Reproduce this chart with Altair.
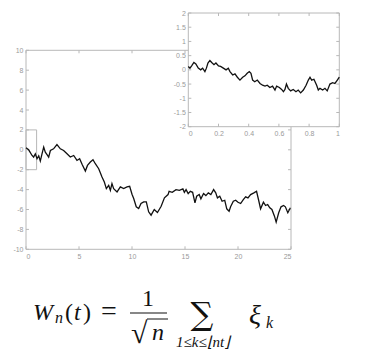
import altair as alt
import pandas as pd

# ---------------- data ----------------
main_x = [0, 0.25, 0.57, 0.72, 0.88, 1.04, 1.2, 1.35, 1.51, 1.67,
          1.82, 2.0, 2.14, 2.3, 2.6, 2.92, 3.24, 3.55, 3.87, 4.18,
          4.5, 4.81, 5.06, 5.3, 5.6, 5.8, 6.07, 6.32, 6.54, 6.86,
          7.17, 7.39, 7.58, 7.8, 7.96, 8.11, 8.27, 8.59, 8.9, 9.21,
          9.53, 9.78, 10.0, 10.16, 10.4, 10.63, 10.85, 11.1, 11.35, 11.57,
          11.8, 12.1, 12.4, 12.75, 13.06, 13.4, 13.5, 13.8, 14.15, 14.47,
          14.8, 14.94, 15.1, 15.3, 15.5, 15.72, 15.94, 16.1, 16.34, 16.5,
          16.75, 16.97, 17.2, 17.44, 17.7, 17.9, 18.06, 18.28, 18.5, 18.75,
          18.94, 19.16, 19.3, 19.56, 19.78, 20.0, 20.25, 20.5, 20.72, 20.94,
          21.19, 21.5, 21.75, 21.97, 22.13, 22.4, 22.6, 22.8, 23.0, 23.2,
          23.44, 23.6, 23.84, 24.06, 24.3, 24.47, 24.7, 24.94]
main_y = [0.2, 0.0, -0.57, -0.73, -0.4, -0.9, -0.6, -1.13, -0.4, 0.27,
          -0.23, -0.5, -0.73, -0.07, 0.1, 0.53, 0.1, -0.07, -0.4, -0.73,
          -0.57, -1.07, -0.9, -1.47, -2.13, -1.57, -1.23, -1.0, -1.4, -1.9,
          -2.73, -3.23, -3.9, -3.57, -4.07, -3.4, -3.9, -4.23, -3.73, -3.9,
          -3.73, -3.67, -4.47, -4.9, -5.73, -5.9, -5.4, -5.23, -5.23, -6.23,
          -6.57, -6.0, -6.3, -5.67, -4.83, -4.5, -4.17, -4.27, -4.0, -4.07,
          -3.93, -4.27, -4.0, -4.4, -4.17, -4.27, -5.33, -4.67, -4.5, -4.93,
          -4.4, -4.6, -4.33, -4.5, -4.0, -4.33, -4.83, -4.67, -5.17, -5.07,
          -5.93, -6.17, -5.73, -5.17, -5.07, -5.27, -5.4, -5.0, -4.73, -4.83,
          -4.5, -4.33, -4.17, -5.17, -5.93, -5.27, -5.6, -5.5, -5.83, -6.0,
          -6.67, -7.27, -6.33, -5.73, -5.6, -5.73, -6.33, -5.83]

inset_x = [0, 0.011, 0.022, 0.037, 0.05, 0.066, 0.082, 0.095, 0.11, 0.12,
           0.13, 0.143, 0.155, 0.17, 0.183, 0.2, 0.214, 0.232, 0.25, 0.265,
           0.276, 0.294, 0.309, 0.325, 0.342, 0.36, 0.375, 0.39, 0.404, 0.415,
           0.426, 0.44, 0.457, 0.475, 0.492, 0.508, 0.523, 0.54, 0.558, 0.574,
           0.585, 0.603, 0.618, 0.63, 0.64, 0.65, 0.662, 0.678, 0.695, 0.713,
           0.728, 0.744, 0.762, 0.78, 0.795, 0.806, 0.817, 0.832, 0.85, 0.861,
           0.872, 0.89, 0.905, 0.92, 0.938, 0.956, 0.971, 0.987, 1.0]
inset_y = [0.12, 0.06, 0.14, 0.26, 0.21, 0.06, 0, 0.06, -0.06, 0.06,
           0.24, 0.33, 0.26, 0.18, 0.24, 0.14, 0.12, 0.06, 0, 0.06,
           -0.06, -0.18, -0.14, -0.26, -0.36, -0.26, -0.21, -0.12, -0.06, -0.12,
           -0.36, -0.42, -0.36, -0.48, -0.54, -0.57, -0.54, -0.62, -0.57, -0.71,
           -0.57, -0.62, -0.69, -0.77, -0.69, -0.5, -0.65, -0.74, -0.69, -0.77,
           -0.71, -0.81, -0.71, -0.54, -0.36, -0.26, -0.36, -0.33, -0.54, -0.71,
           -0.65, -0.71, -0.65, -0.74, -0.5, -0.45, -0.48, -0.36, -0.26]

main_xticks = [0, 5, 10, 15, 20, 25]
main_yticks = [-10, -8, -6, -4, -2, 0, 2, 4, 6, 8, 10]
inset_xticks = [0, 0.2, 0.4, 0.6, 0.8, 1]
inset_yticks = [-2, -1.5, -1, -0.5, 0, 0.5, 1, 1.5, 2]

main_xdom = [0, 25]
main_ydom = [-10, 10]
inset_xdom = [0, 1]
inset_ydom = [-2, 2]
zoom_box_x = [0, 1]
zoom_box_y = [-2, 2]

# ---------------- layout ----------------
OX, OY = 26, 13          # view origin in the page
W, H = 314, 236.3        # view size
MAIN_XR = [0, 265]
MAIN_YR = [236.3, 37.3]
INS_XR = [162.3, 313.3]
INS_YR = [113.7, 0]

FRAME = "#b8b8b8"
LABEL = "#9a9a9a"
LFONT = "Liberation Sans"


def sc(dom, rng):
    return alt.Scale(domain=dom, range=rng, nice=False, zero=False)


def ax(values, **kw):
    return alt.Axis(values=values, ticks=False, domain=False, grid=False,
                    labelColor=LABEL, labelFontSize=7, labelFont=LFONT,
                    labelPadding=3, title=None, zindex=1,
                    labelExpr="'' + datum.value", **kw)


def panel(xs, ys, xdom, ydom, xr, yr, xticks, yticks, xtl, ytl, xaxis, yaxis, box=None):
    XS, YS = sc(xdom, xr), sc(ydom, yr)
    frame_df = pd.DataFrame({"x": [xdom[0]], "x2": [xdom[1]], "y": [ydom[0]], "y2": [ydom[1]]})
    frame = alt.Chart(frame_df).mark_rect(fill="white", stroke=FRAME, strokeWidth=1).encode(
        x=alt.X("x:Q", scale=XS, axis=xaxis), x2="x2",
        y=alt.Y("y:Q", scale=YS, axis=yaxis), y2="y2")
    layers = [frame]
    if box is not None:
        box_df = pd.DataFrame({"x": [box[0][0]], "x2": [box[0][1]], "y": [box[1][0]], "y2": [box[1][1]]})
        layers.append(alt.Chart(box_df).mark_rect(fillOpacity=0, stroke=FRAME, strokeWidth=1).encode(
            x=alt.X("x:Q", scale=XS, axis=xaxis), x2="x2",
            y=alt.Y("y:Q", scale=YS, axis=yaxis), y2="y2"))
    # inward ticks, bottom and top
    xt = pd.DataFrame({
        "x": xticks * 2,
        "y": [ydom[0]] * len(xticks) + [ydom[1]] * len(xticks),
        "y2": [ydom[0] + xtl] * len(xticks) + [ydom[1] - xtl] * len(xticks)})
    layers.append(alt.Chart(xt).mark_rule(color=FRAME, strokeWidth=1).encode(
        x=alt.X("x:Q", scale=XS, axis=xaxis),
        y=alt.Y("y:Q", scale=YS, axis=yaxis), y2="y2"))
    # inward ticks, left and right
    yt = pd.DataFrame({
        "y": yticks * 2,
        "x": [xdom[0]] * len(yticks) + [xdom[1]] * len(yticks),
        "x2": [xdom[0] + ytl] * len(yticks) + [xdom[1] - ytl] * len(yticks)})
    layers.append(alt.Chart(yt).mark_rule(color=FRAME, strokeWidth=1).encode(
        x=alt.X("x:Q", scale=XS, axis=xaxis), x2="x2",
        y=alt.Y("y:Q", scale=YS, axis=yaxis)))
    line_df = pd.DataFrame({"x": xs, "y": ys})
    layers.append(alt.Chart(line_df).mark_line(color="#111111", strokeWidth=1.3).encode(
        x=alt.X("x:Q", scale=XS, axis=xaxis),
        y=alt.Y("y:Q", scale=YS, axis=yaxis)))
    return alt.layer(*layers)


main = panel(main_x, main_y, main_xdom, main_ydom, MAIN_XR, MAIN_YR,
             main_xticks, main_yticks, 0.3, 0.28,
             ax(main_xticks, orient="bottom"), ax(main_yticks, orient="left"),
             box=(zoom_box_x, zoom_box_y))

inset = panel(inset_x, inset_y, inset_xdom, inset_ydom, INS_XR, INS_YR,
              inset_xticks, inset_yticks, 0.105, 0.02,
              ax(inset_xticks, orient="bottom", offset=-(H - INS_YR[0])),
              ax(inset_yticks, orient="left", offset=-INS_XR[0]))

# ---------------- formula ----------------
one = pd.DataFrame({"a": [0]})


def txt(s, ax_, ay_, size, italic=False, align="left", font="Liberation Serif"):
    return alt.Chart(one).mark_text(
        text=s, align=align, baseline="alphabetic", fontSize=size, font=font,
        fontStyle="italic" if italic else "normal", color="#111111").encode(
        x=alt.value(ax_ - OX), y=alt.value(ay_ - OY))


def hline(x1, x2, yy, w=1.2):
    return alt.Chart(one).mark_rule(color="#111111", strokeWidth=w).encode(
        x=alt.value(x1 - OX), x2=alt.value(x2 - OX), y=alt.value(yy - OY))


formula = alt.layer(
    txt("W", 33, 320, 24, italic=True),
    txt("n", 55, 323, 16, italic=True),
    txt("(", 65, 320, 24),
    txt("t", 74, 320, 24, italic=True),
    txt(")", 83, 320, 24),
    txt("=", 109, 320, 28, align="center"),
    txt("1", 148, 306, 24, align="center"),
    hline(130, 167, 313),
    txt("√", 131, 343, 30),
    hline(147, 168, 319, 1.0),
    txt("n", 158, 340, 24, italic=True, align="center"),
    txt("∑", 202, 325, 32, align="center", font="DejaVu Serif"),
    txt("1≤k≤⌊nt⌋", 176, 347, 15, italic=True),
    txt("ξ", 249, 324, 28, italic=True),
    txt("k", 266, 328, 16, italic=True),
)

chart = alt.layer(main, inset, formula).resolve_scale(
    x="independent", y="independent").resolve_axis(
    x="independent", y="independent").properties(
    width=W, height=H,
    autosize=alt.AutoSizeParams(type="none"),
    padding={"left": OX, "top": OY, "right": 379 - OX - W, "bottom": 352 - OY - H},
    background="white",
).configure_view(strokeWidth=0)

chart.save("out.html", embed_options={"renderer": "svg", "actions": False})
